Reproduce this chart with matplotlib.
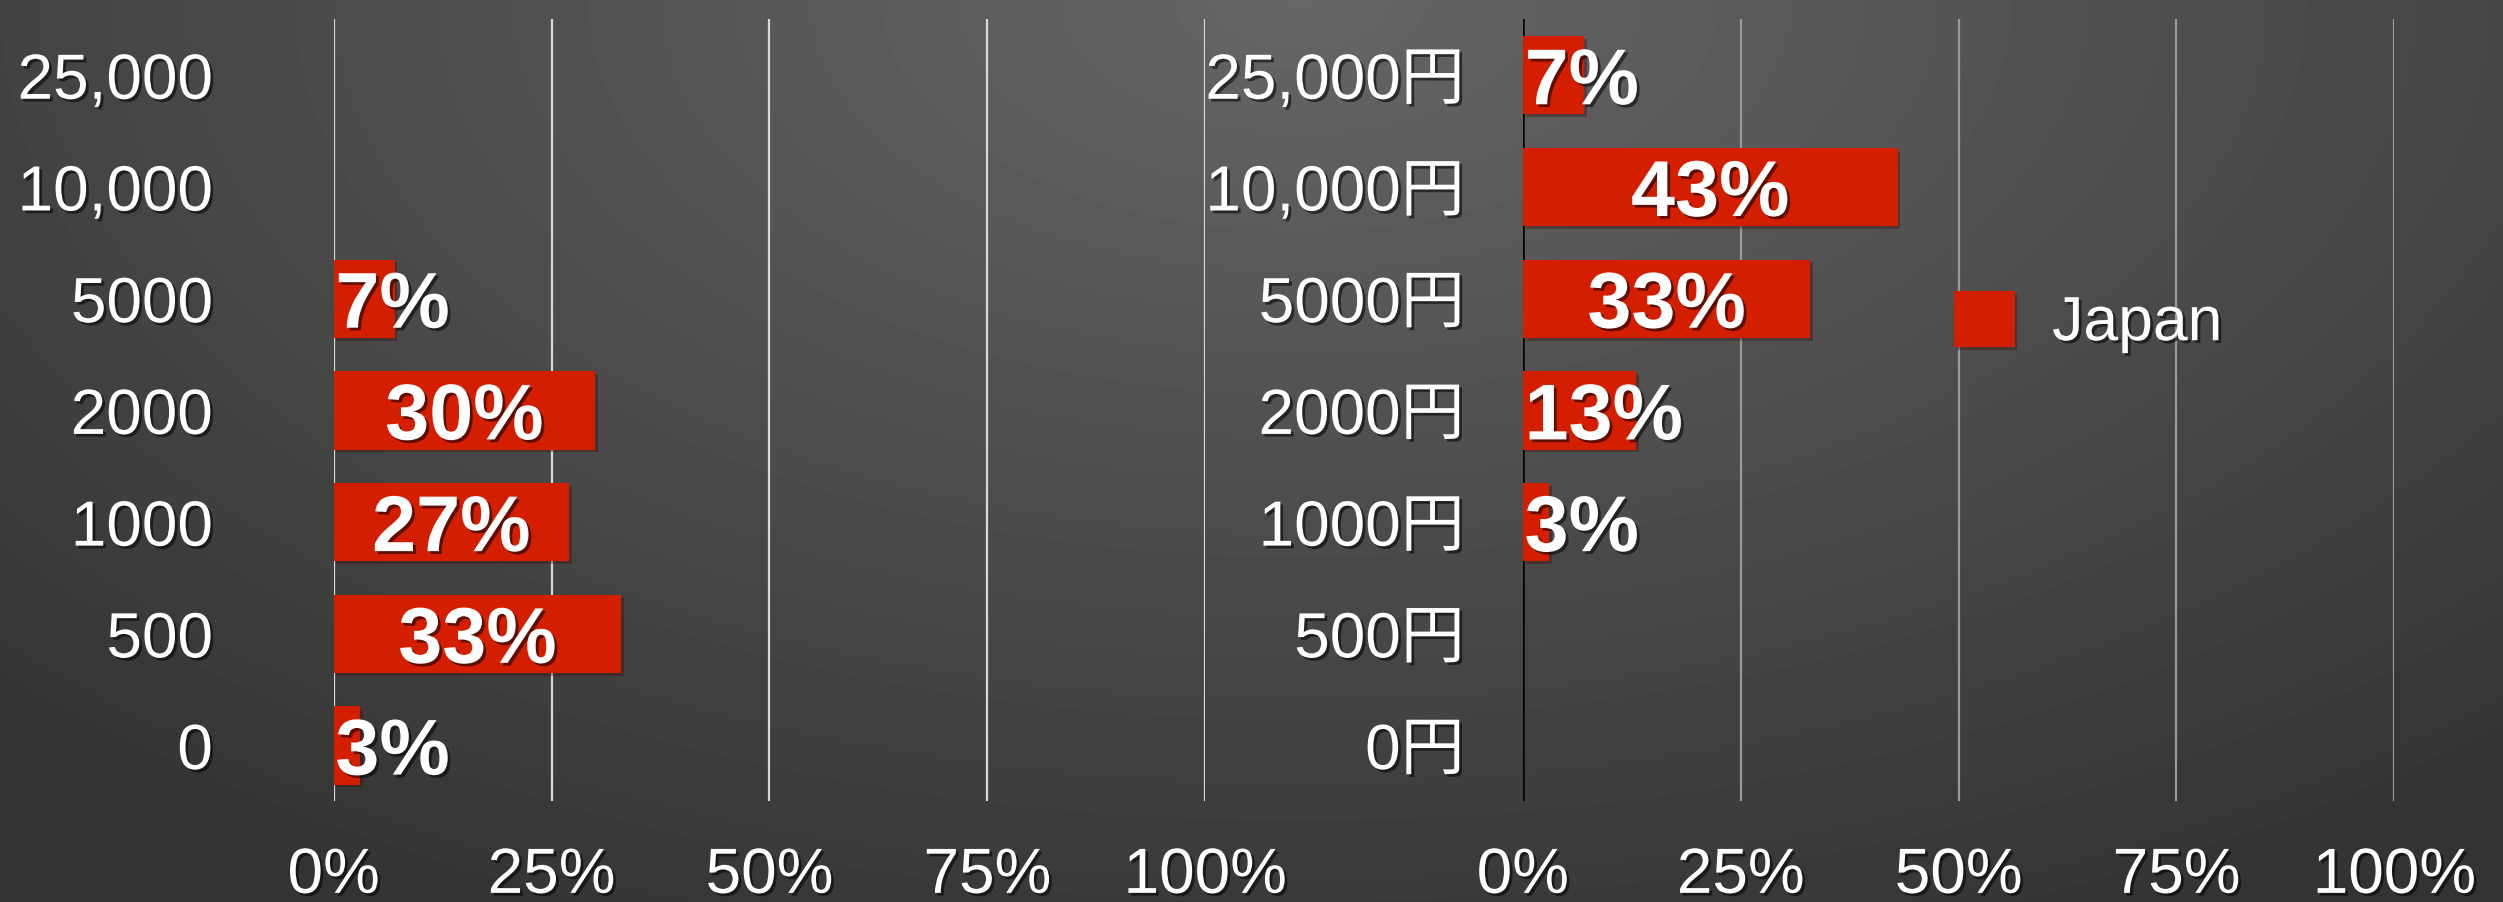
import matplotlib
matplotlib.use("Agg")
import matplotlib.pyplot as plt
import matplotlib.patheffects as pe
import numpy as np

# data, bottom to top
left_labels = ["0", "500", "1000", "2000", "5000", "10,000", "25,000"]
left_values = [3, 33, 27, 30, 7, None, None]

right_labels = ["0円", "500円", "1000円", "2000円", "5000円", "10,000円", "25,000円"]
right_values = [None, None, 3, 13, 33, 43, 7]

x_ticks = [0, 25, 50, 75, 100]
x_ticklabels = ["0%", "25%", "50%", "75%", "100%"]
series_name = "Japan"

bar_color = "#d41e00"
fonts = ["Liberation Sans", "Noto Sans CJK JP", "DejaVu Sans"]
plt.rcParams["font.family"] = fonts

shadow = [pe.withSimplePatchShadow(offset=(2, -2), shadow_rgbFace="black", alpha=0.55)]

fig = plt.figure(figsize=(25.03, 9.02), dpi=100)

# background: radial grey gradient, lightest near top centre
bg = fig.add_axes([0, 0, 1, 1], zorder=-10)
W, H = 2503, 902
xx, yy = np.meshgrid(np.arange(W), np.arange(H))
r = np.sqrt(((xx - 1300) / 1880.0) ** 2 + (yy / 1040.0) ** 2)
v = 0.20 + 0.20 * np.clip(1 - r, 0, 1)
bg.imshow(v, cmap="gray", vmin=0, vmax=1, aspect="auto", interpolation="bilinear")
bg.axis("off")


def draw_panel(ax, labels, values, grid_color, ypad, zero_color):
    pos = np.arange(len(labels))
    vals = [0 if v is None else v for v in values]
    bars = ax.barh(pos, vals, height=0.7, color=bar_color, zorder=3, label=series_name)
    for b in bars:
        b.set_path_effects([pe.withSimplePatchShadow(offset=(2, -2), alpha=0.35), pe.Normal()])
    for p, v in zip(pos, values):
        if v is None:
            continue
        if v < 20:
            t = ax.text(0.2, p, f"{v}%", ha="left", va="center_baseline", fontsize=57,
                        fontweight="bold", color="white", zorder=5)
        else:
            t = ax.text(v / 2, p, f"{v}%", ha="center", va="center_baseline", fontsize=57,
                        fontweight="bold", color="white", zorder=5)
        t.set_path_effects(shadow)

    ax.set_xlim(0, 100)
    ax.set_ylim(-0.5, len(labels) - 0.5)
    ax.set_xticks(x_ticks)
    ax.set_xticklabels(x_ticklabels)
    ax.set_yticks(pos)
    ax.set_yticklabels(labels)
    ax.tick_params(axis="both", length=0, labelsize=46, labelcolor="white")
    ax.tick_params(axis="y", pad=ypad)
    ax.tick_params(axis="x", pad=32)
    for lab in ax.get_xticklabels() + ax.get_yticklabels():
        lab.set_path_effects(shadow)
    ax.patch.set_visible(False)
    for s in ax.spines.values():
        s.set_visible(False)
    ax.grid(axis="x", color=grid_color, linewidth=1.6, zorder=1)
    ax.grid(axis="y", visible=False)
    ax.set_axisbelow(True)
    if zero_color is not None:
        ax.axvline(0, color=zero_color, linewidth=1.8, zorder=2)
    return bars


ax1 = fig.add_axes([0.1333, 0.1115, 0.3482, 0.867])
draw_panel(ax1, left_labels, left_values, "#d8d8d8", 87, None)

ax2 = fig.add_axes([0.6084, 0.1115, 0.3482, 0.867])
bars2 = draw_panel(ax2, right_labels, right_values, "#9a9a9a", 42, "black")

leg = ax2.legend(handles=[bars2], labels=[series_name], loc="center left",
                 bbox_to_anchor=(1954 / 2503, 1 - 322 / 902), bbox_transform=fig.transFigure,
                 frameon=False, fontsize=45, handlelength=0.97, handleheight=1.0,
                 handletextpad=0.6, borderpad=0, borderaxespad=0)
for t in leg.get_texts():
    t.set_color("white")
    t.set_path_effects(shadow)

plt.savefig("out.png", dpi=100)
